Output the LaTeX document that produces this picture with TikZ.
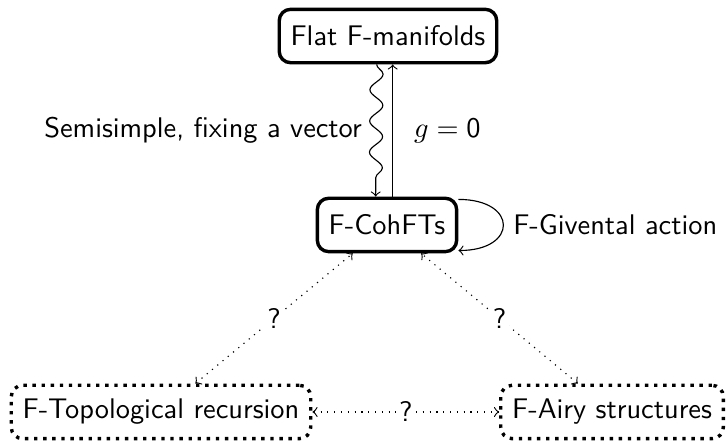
\documentclass[tikz,border=0pt]{standalone}
\usetikzlibrary{decorations.pathmorphing}
\begin{document}
\begin{tikzpicture}[font=\sffamily]
		\tikzstyle{boite}=[draw,very thick,rounded corners=4pt,inner xsep=4pt,minimum height=18.8pt]
		\tikzstyle{boitepointillee}=[boite,dotted]
		\tikzstyle{fleche}=[->]
		\tikzstyle{pointilles}=[<->,dotted]
		\tikzstyle{ondulee}=[->,decorate,decoration={snake,amplitude=2.3pt,segment length=11pt,post length=2pt}]
		\tikzstyle{etiquette}=[midway,fill=white,inner sep=1pt]
		\def\Largeur{9}
		\def\Hauteur{5.509}
		\def\NiveauA{5.063}
		\def\NiveauB{2.724}
		\def\NiveauC{0.409}
		\useasboundingbox (0,0) rectangle (\Largeur,\Hauteur);
		\node[boite] (Plat) at (4.803,\NiveauA) {Flat F-manifolds};
		\node[boite] (CohFT) at (4.791,\NiveauB) {F-CohFTs};
		\node[boitepointillee] (Topo) at (1.993,\NiveauC) {F-Topological recursion};
		\node[boitepointillee] (Airy) at (7.577,\NiveauC) {F-Airy structures};
		\draw[ondulee] ([xshift=-4pt]Plat.south) -- ([xshift=-4pt]CohFT.north |- CohFT.north) node[midway,left=1.5pt] {Semisimple, fixing a vector};
		\draw[fleche] ([xshift=2pt]CohFT.north) -- ([xshift=2pt]CohFT.north |- Plat.south) node[midway,right=4pt] {$g=\mathsf{0}$};
		\draw[fleche] ([yshift=-1pt]CohFT.north east) to[out=0,in=0,looseness=3] node[right] {F-Givental action} ([yshift=1pt]CohFT.south east);
		\draw[pointilles] (Topo)--(CohFT) node[etiquette] {?};
		\draw[pointilles] (Airy)--(CohFT) node[etiquette] {?};
		\draw[pointilles] (Topo)--(Airy) node[etiquette] {?};
	\end{tikzpicture}
\end{document}
